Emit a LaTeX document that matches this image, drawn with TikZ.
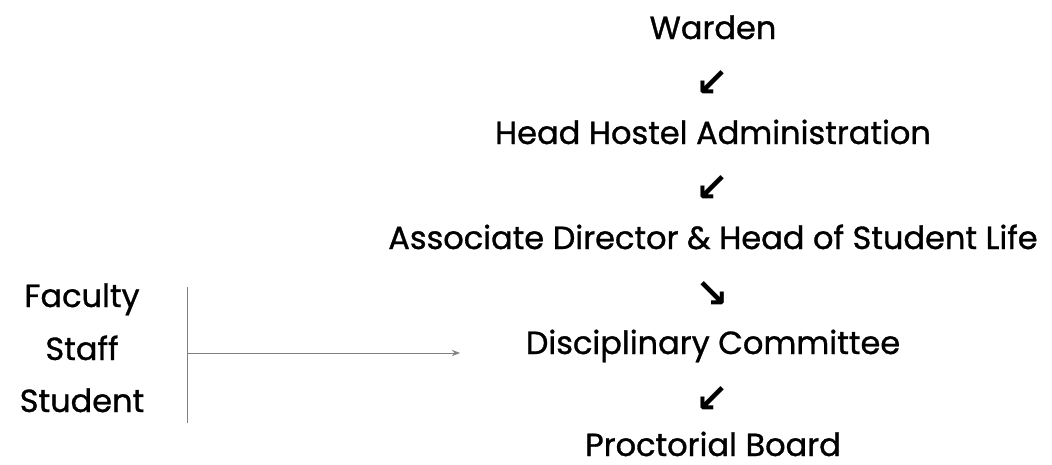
\documentclass[tikz,border=0pt]{standalone}
\usepackage{fontspec}
\setmainfont{Poppins}[FakeBold=1.0]
\newfontfamily\arrowfont{DejaVu Sans Bold}
\usepackage{tikz}
\usetikzlibrary{calc,arrows.meta}
\definecolor{linegray}{RGB}{128,128,128}

\begin{document}
\begin{tikzpicture}[x=1pt,y=-1pt]
		\useasboundingbox (0,0) rectangle (1052,464);
		\tikzset{post/.style={anchor=base,inner sep=0pt,font=\fontsize{32}{36}\selectfont},
		         down/.style={font=\arrowfont\fontsize{40}{42}\selectfont},
		         who/.style={anchor=base,inner sep=0pt,font=\fontsize{32}{36}\selectfont}}
		% chain of offices
		\node[post] (warden) at (713,39) {Warden};
		\node[down] (a1) at (712,83) {↙};
		\node[post] (hostel) at (713,144) {Head Hostel Administration};
		\node[down] (a2) at (712,188) {↙};
		\node[post] (assoc) at (713,249) {Associate Director \& Head of Student Life};
		\node[down] (a3) at (712,294) {↘};
		\node[post] (disc) at (713,354) {Disciplinary Committee};
		\node[down] (a4) at (712,399) {↙};
		\node[post] (proct) at (713,456) {Proctorial Board};
		% who can report
		\node[who] (fac) at (82,307) {Faculty};
		\node[who] (staff) at (82,360) {Staff};
		\node[who] (stud) at (82,412) {Student};
		\coordinate (top) at (187,287);
		\coordinate (bot) at (187,423);
		\coordinate (tip) at (460,353);
		\draw[linegray,thick] (top) -- (bot);
		\draw[linegray,-{Stealth[length=8pt,width=6pt]}] (top|-tip) -- (tip);
\end{tikzpicture}
\end{document}
